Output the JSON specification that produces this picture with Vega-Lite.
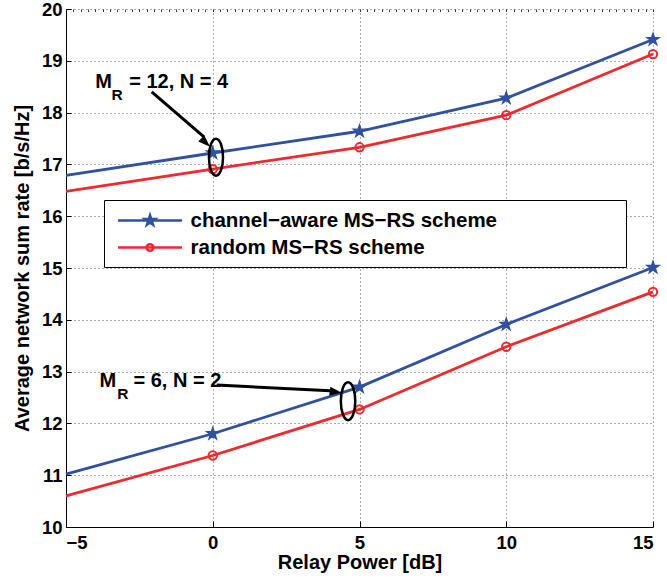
{
  "$schema": "https://vega.github.io/schema/vega-lite/v6.json",
  "width": 587,
  "height": 518,
  "autosize": "none",
  "padding": {"left": 66, "top": 9, "right": 14, "bottom": 57},
  "background": "white",
  "config": {
    "view": {"stroke": null},
    "font": "Liberation Sans",
    "axis": {
      "labelFont": "Liberation Sans", "labelFontSize": 18.5, "labelFontWeight": "bold", "labelColor": "black",
      "titleFont": "Liberation Sans", "titleFontSize": 20, "titleFontWeight": "bold", "titleColor": "black",
      "domainColor": "black", "domainWidth": 1, "tickColor": "black", "tickWidth": 1,
      "gridColor": "#555555", "gridDash": [1, 3], "gridWidth": 1, "gridOpacity": 1
    }
  },
  "datasets": {
    "rates": [
      {"power": -5, "rate": 16.79, "scheme": "channel−aware MS−RS scheme", "config": "MR=12,N=4"},
      {"power": 0, "rate": 17.22, "scheme": "channel−aware MS−RS scheme", "config": "MR=12,N=4"},
      {"power": 5, "rate": 17.64, "scheme": "channel−aware MS−RS scheme", "config": "MR=12,N=4"},
      {"power": 10, "rate": 18.28, "scheme": "channel−aware MS−RS scheme", "config": "MR=12,N=4"},
      {"power": 15, "rate": 19.41, "scheme": "channel−aware MS−RS scheme", "config": "MR=12,N=4"},
      {"power": -5, "rate": 16.48, "scheme": "random MS−RS scheme", "config": "MR=12,N=4"},
      {"power": 0, "rate": 16.91, "scheme": "random MS−RS scheme", "config": "MR=12,N=4"},
      {"power": 5, "rate": 17.33, "scheme": "random MS−RS scheme", "config": "MR=12,N=4"},
      {"power": 10, "rate": 17.95, "scheme": "random MS−RS scheme", "config": "MR=12,N=4"},
      {"power": 15, "rate": 19.13, "scheme": "random MS−RS scheme", "config": "MR=12,N=4"},
      {"power": -5, "rate": 11.02, "scheme": "channel−aware MS−RS scheme", "config": "MR=6,N=2"},
      {"power": 0, "rate": 11.80, "scheme": "channel−aware MS−RS scheme", "config": "MR=6,N=2"},
      {"power": 5, "rate": 12.70, "scheme": "channel−aware MS−RS scheme", "config": "MR=6,N=2"},
      {"power": 10, "rate": 13.91, "scheme": "channel−aware MS−RS scheme", "config": "MR=6,N=2"},
      {"power": 15, "rate": 15.01, "scheme": "channel−aware MS−RS scheme", "config": "MR=6,N=2"},
      {"power": -5, "rate": 10.60, "scheme": "random MS−RS scheme", "config": "MR=6,N=2"},
      {"power": 0, "rate": 11.38, "scheme": "random MS−RS scheme", "config": "MR=6,N=2"},
      {"power": 5, "rate": 12.27, "scheme": "random MS−RS scheme", "config": "MR=6,N=2"},
      {"power": 10, "rate": 13.48, "scheme": "random MS−RS scheme", "config": "MR=6,N=2"},
      {"power": 15, "rate": 14.54, "scheme": "random MS−RS scheme", "config": "MR=6,N=2"}
    ]
  },
  "resolve": {"axis": {"x": "independent", "y": "independent"}},
  "layer": [
    {
      "data": {"name": "rates"},
      "mark": {"type": "line", "strokeWidth": 2.8},
      "encoding": {
        "x": {"field": "power", "type": "quantitative",
          "scale": {"domain": [-5, 15], "nice": false, "zero": false},
          "axis": {"title": "Relay Power [dB]", "values": [-5, 0, 5, 10, 15], "grid": true, "tickSize": -6, "labelPadding": 12.5, "titlePadding": 0}},
        "y": {"field": "rate", "type": "quantitative",
          "scale": {"domain": [10, 20], "nice": false, "zero": false},
          "axis": {"title": "Average network sum rate [b/s/Hz]", "values": [10, 11, 12, 13, 14, 15, 16, 17, 18, 19, 20], "grid": true, "tickSize": -5, "labelPadding": 9, "titlePadding": 9}},
        "stroke": {"field": "scheme", "type": "nominal",
          "scale": {"domain": ["channel−aware MS−RS scheme", "random MS−RS scheme"], "range": ["#3050a0", "#ee2a2e"]},
          "legend": {
            "title": null, "orient": "none", "legendX": 38, "legendY": 191,
            "strokeColor": "black", "fillColor": "white", "cornerRadius": 0, "padding": 9,
            "labelFont": "Liberation Sans", "labelFontSize": 20.5, "labelFontWeight": "bold", "labelColor": "black",
            "labelLimit": 800, "labelOffset": 54.5, "symbolSize": 400, "rowPadding": 5,
            "encode": {
              "symbols": {
                "update": {
                  "shape": {"signal": "datum.value === 'random MS−RS scheme' ? 'M2.88,0A0.33,0.33,0,1,1,2.22,0A0.33,0.33,0,1,1,2.88,0ZM-0.65,0L5.75,0M48.7,0' : 'M2.55,-0.5L2.662,-0.155L3.026,-0.155L2.731,0.059L2.844,0.405L2.55,0.19L2.256,0.405L2.369,0.059L2.074,-0.155L2.438,-0.155ZM-0.65,0L5.75,0M48.7,0'"},
                  "fill": {"signal": "datum.value === 'random MS−RS scheme' ? 'transparent' : '#3050a0'"},
                  "strokeWidth": {"value": 2.6},
                  "opacity": {"value": 1}
                }
              }
            }
          }},
        "detail": {"field": "config"}
      }
    },
    {
      "data": {"name": "rates"},
      "transform": [{"filter": "datum.power >= 0 && datum.scheme === 'channel−aware MS−RS scheme'"}],
      "mark": {"type": "point", "shape": "M0,-1L0.225,-0.309L0.951,-0.309L0.363,0.118L0.588,0.809L0,0.382L-0.588,0.809L-0.363,0.118L-0.951,-0.309L-0.225,-0.309Z", "size": 175, "filled": true, "fill": "#3050a0", "stroke": "#3050a0", "strokeWidth": 1.2, "opacity": 1},
      "encoding": {
        "x": {"field": "power", "type": "quantitative", "axis": null},
        "y": {"field": "rate", "type": "quantitative", "axis": null}
      }
    },
    {
      "data": {"name": "rates"},
      "transform": [{"filter": "datum.power >= 0 && datum.scheme === 'random MS−RS scheme'"}],
      "mark": {"type": "point", "shape": "circle", "size": 70, "filled": false, "stroke": "#ee2a2e", "strokeWidth": 2, "opacity": 1},
      "encoding": {
        "x": {"field": "power", "type": "quantitative", "axis": null},
        "y": {"field": "rate", "type": "quantitative", "axis": null}
      }
    },
    {
      "data": {"values": [{}]},
      "mark": {"type": "point", "shape": "M0,-1A0.38,1,0,1,1,0,1A0.38,1,0,1,1,0,-1Z", "size": 1369, "filled": false, "stroke": "black", "strokeWidth": 2.5, "opacity": 1},
      "encoding": {
        "x": {"datum": 0.11, "type": "quantitative",
          "axis": {"values": [-5,-4.75,-4.5,-4.25,-4,-3.75,-3.5,-3.25,-3,-2.75,-2.5,-2.25,-2,-1.75,-1.5,-1.25,-1,-0.75,-0.5,-0.25,0,0.25,0.5,0.75,1,1.25,1.5,1.75,2,2.25,2.5,2.75,3,3.25,3.5,3.75,4,4.25,4.5,4.75,5,5.25,5.5,5.75,6,6.25,6.5,6.75,7,7.25,7.5,7.75,8,8.25,8.5,8.75,9,9.25,9.5,9.75,10,10.25,10.5,10.75,11,11.25,11.5,11.75,12,12.25,12.5,12.75,13,13.25,13.5,13.75,14,14.25,14.5,14.75,15],
            "labels": false, "domain": false, "grid": false, "tickSize": -2.5, "title": null, "tickColor": "#333333"}},
        "y": {"datum": 17.14, "type": "quantitative", "axis": null}
      }
    },
    {
      "data": {"values": [{}]},
      "mark": {"type": "point", "shape": "M0,-1A0.38,1,0,1,1,0,1A0.38,1,0,1,1,0,-1Z", "size": 1444, "filled": false, "stroke": "black", "strokeWidth": 2.5, "opacity": 1},
      "encoding": {
        "x": {"datum": 4.61, "type": "quantitative", "axis": null},
        "y": {"datum": 12.43, "type": "quantitative", "axis": null}
      }
    },
    {
      "data": {"values": [{}]},
      "mark": {"type": "rule", "stroke": "black", "strokeWidth": 3},
      "encoding": {
        "x": {"datum": -2.08, "type": "quantitative", "axis": null},
        "y": {"datum": 18.40, "type": "quantitative", "axis": null},
        "x2": {"datum": -0.30},
        "y2": {"datum": 17.53}
      }
    },
    {
      "data": {"values": [{}]},
      "mark": {"type": "point", "shape": "M0,0L-1,-0.36L-1,0.36Z", "size": 576, "filled": true, "color": "black", "angle": 43.3, "opacity": 1},
      "encoding": {
        "x": {"datum": -0.094, "type": "quantitative", "axis": null},
        "y": {"datum": 17.342, "type": "quantitative", "axis": null}
      }
    },
    {
      "data": {"values": [{}]},
      "mark": {"type": "rule", "stroke": "black", "strokeWidth": 3},
      "encoding": {
        "x": {"datum": 0.134, "type": "quantitative", "axis": null},
        "y": {"datum": 12.741, "type": "quantitative", "axis": null},
        "x2": {"datum": 4.0},
        "y2": {"datum": 12.63}
      }
    },
    {
      "data": {"values": [{}]},
      "mark": {"type": "point", "shape": "M0,0L-1,-0.36L-1,0.36Z", "size": 576, "filled": true, "color": "black", "angle": 7.6, "opacity": 1},
      "encoding": {
        "x": {"datum": 4.393, "type": "quantitative", "axis": null},
        "y": {"datum": 12.593, "type": "quantitative", "axis": null}
      }
    },
    {
      "data": {"values": [{}]},
      "mark": {"type": "text", "text": "M", "align": "left", "baseline": "alphabetic", "font": "Liberation Sans", "fontSize": 20, "fontWeight": "bold", "color": "black"},
      "encoding": {
        "x": {"datum": -4.002, "type": "quantitative", "axis": null},
        "y": {"datum": 18.469, "type": "quantitative", "axis": null}
      }
    },
    {
      "data": {"values": [{}]},
      "mark": {"type": "text", "text": "R", "align": "left", "baseline": "alphabetic", "font": "Liberation Sans", "fontSize": 15.5, "fontWeight": "bold", "color": "black"},
      "encoding": {
        "x": {"datum": -3.446, "type": "quantitative", "axis": null},
        "y": {"datum": 18.243, "type": "quantitative", "axis": null}
      }
    },
    {
      "data": {"values": [{}]},
      "mark": {"type": "text", "text": "= 12, N = 4", "align": "left", "baseline": "alphabetic", "font": "Liberation Sans", "fontSize": 20, "fontWeight": "bold", "color": "black"},
      "encoding": {
        "x": {"datum": -2.847, "type": "quantitative", "axis": null},
        "y": {"datum": 18.469, "type": "quantitative", "axis": null}
      }
    },
    {
      "data": {"values": [{}]},
      "mark": {"type": "text", "text": "M", "align": "left", "baseline": "alphabetic", "font": "Liberation Sans", "fontSize": 20, "fontWeight": "bold", "color": "black"},
      "encoding": {
        "x": {"datum": -3.855, "type": "quantitative", "axis": null},
        "y": {"datum": 12.709, "type": "quantitative", "axis": null}
      }
    },
    {
      "data": {"values": [{}]},
      "mark": {"type": "text", "text": "R", "align": "left", "baseline": "alphabetic", "font": "Liberation Sans", "fontSize": 15.5, "fontWeight": "bold", "color": "black"},
      "encoding": {
        "x": {"datum": -3.256, "type": "quantitative", "axis": null},
        "y": {"datum": 12.471, "type": "quantitative", "axis": null}
      }
    },
    {
      "data": {"values": [{}]},
      "mark": {"type": "text", "text": "= 6, N = 2", "align": "left", "baseline": "alphabetic", "font": "Liberation Sans", "fontSize": 20, "fontWeight": "bold", "color": "black"},
      "encoding": {
        "x": {"datum": -2.700, "type": "quantitative", "axis": null},
        "y": {"datum": 12.709, "type": "quantitative", "axis": null}
      }
    }
  ]
}
